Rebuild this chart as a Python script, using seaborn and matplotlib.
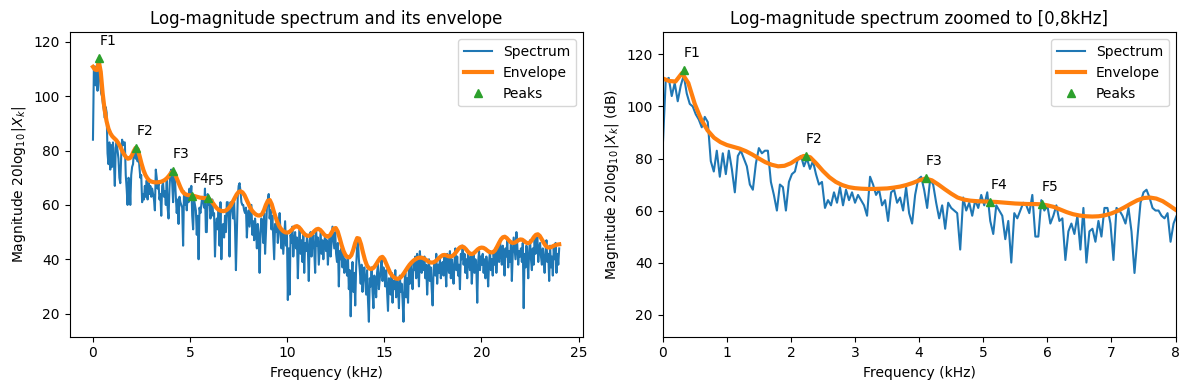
import numpy as np
import pandas as pd
import seaborn as sns
import matplotlib.pyplot as plt

# log-magnitude spectrum, 513 bins from 0 to 24 kHz
spectrum_db = [
    84, 110, 111, 104, 109, 102, 108, 112, 105, 101, 100, 97, 95, 92, 96, 94,
    79, 75, 83, 73, 82, 74, 83, 76, 67, 81, 83, 80, 77, 70, 68,
    78, 84, 82, 83, 83, 71, 66, 60, 70, 69, 60, 71, 74, 75, 80, 81, 77,
    80, 76, 79, 74, 70, 71, 61, 64, 62, 67, 63, 69, 62,
    68, 64, 67, 63, 66, 64, 62, 58, 73, 70, 66, 68, 62, 64, 56,
    67, 68, 63, 65, 60, 69, 59, 55, 66, 72, 73, 68, 61, 72,
    70, 63, 57, 62, 53, 63, 61, 60, 59, 45, 65, 60,
    63, 58, 64, 61, 66, 62, 67, 56, 51, 62, 60, 58, 49, 56, 40,
    59, 57, 60, 63, 62, 59, 66, 50, 50, 64, 60, 62, 55, 58, 62, 56, 57,
    41, 52, 55, 51, 58, 45, 61, 40, 52, 53, 48, 56, 50, 61, 61, 55,
    41, 61, 60, 58, 55, 61, 52, 36, 50, 63, 67, 68, 65, 61, 60, 60,
    58, 57, 59, 48, 55,
    # 8 - 24 kHz
    58, 52, 56, 60, 49, 54, 47, 55, 51, 44, 53, 48, 35, 50, 55, 52, 46, 57, 42, 50, 59,
    62, 64, 55, 58, 51, 56, 48, 40, 53, 50, 55, 46, 52, 57, 49, 44, 51, 42, 48, 54, 45, 50,
    25, 44, 27, 49, 46, 52, 41, 47, 50, 44, 48, 33, 45, 51, 42, 47, 39, 49, 35, 46, 43,
    48, 44, 32, 47, 50, 41, 46, 49, 43, 35, 51, 45, 48, 38, 44, 50, 42, 47, 40, 46, 49,
    43, 47, 38, 45, 49, 41, 46, 52, 48, 44, 50, 42, 39, 46, 30, 43, 40, 44, 37, 42, 35, 40,
    38, 34, 41, 29, 36, 19, 33, 39, 28, 35, 23, 37, 44, 47, 40, 36, 31, 38, 28, 34, 37,
    32, 27, 36, 25, 17, 33, 30, 37, 28, 22, 34, 31, 26, 35, 38, 29, 33, 36, 40, 32, 37,
    34, 30, 36, 28, 21, 33, 31, 27, 35, 24, 32, 29, 36, 26, 33, 30, 22, 34, 28, 31, 25, 17,
    30, 35, 26, 33, 24, 37, 31, 38, 34, 29, 39, 36, 41, 33, 42, 38, 30, 43, 37, 35, 40,
    36, 41, 33, 38, 27, 35, 40, 32, 37, 29, 23, 36, 39, 34, 42, 31, 38, 35, 40, 33, 37,
    39, 34, 41, 36, 30, 42, 38, 35, 43, 33, 40, 37, 31, 39, 44, 36, 41, 34, 38, 29, 42, 40,
    45, 38, 42, 35, 40, 33, 43, 39, 36, 41, 31, 38, 42, 35, 40, 37, 24, 39, 43, 36, 41,
    38, 42, 35, 40, 33, 41, 37, 30, 39, 43, 36, 40, 34, 42, 38, 44, 35, 41, 46, 39, 47,
    42, 38, 45, 40, 34, 44, 41, 47, 37, 43, 39, 46, 32, 42, 48, 44, 40, 50, 45, 38, 43, 41,
    44, 39, 46, 22, 42, 37, 45, 41, 33, 43, 47, 40, 36, 44, 38, 48, 42, 45, 49, 39, 44,
    46, 41, 38, 44, 40, 35, 43, 47, 39, 42, 32, 45, 37, 41, 34, 44, 40, 46, 35, 42, 38, 44,
]

# smoothed envelope, every 0.1 kHz from 0 to 24 kHz
envelope_db = [
    110.8, 109.8, 109.6, 112.8, 109.0, 101.0, 95.0, 90.8, 88.0, 86.3,
    85.2, 84.5, 83.8, 82.8, 81.5, 80.0, 78.6, 77.6, 77.0, 77.2,
    78.2, 79.8, 81.0, 80.5, 78.0, 75.2, 72.8, 71.0, 69.8, 69.0,
    68.6, 68.4, 68.3, 68.3, 68.4, 68.5, 68.8, 69.2, 69.8, 70.6,
    71.6, 72.3, 71.6, 70.0, 68.2, 66.5, 65.0, 64.2, 63.8, 63.6,
    63.5, 63.4, 63.3, 63.1, 62.9, 62.7, 62.6, 62.5, 62.5, 62.4,
    62.0, 61.4, 60.4, 59.4, 58.6, 58.1, 57.8, 57.7, 57.8, 58.2,
    58.9, 59.9, 61.2, 62.6, 63.9, 64.8, 65.0, 64.6, 63.6, 62.0,
    60.3, 58.9, 57.8, 57.0, 56.4, 56.1, 56.1, 56.6, 58.0, 60.0,
    61.5, 61.8, 60.3, 57.8, 55.5, 53.5, 52.0, 51.0, 50.3, 49.9,
    49.8, 50.0, 50.6, 51.4, 52.0, 52.2, 51.8, 51.0, 50.0, 49.2,
    48.7, 48.6, 48.9, 49.6, 50.4, 51.0, 51.2, 50.8, 50.0, 49.1,
    48.5, 48.3, 48.8, 50.0, 51.3, 51.5, 50.2, 47.8, 45.2, 43.0,
    41.5, 40.8, 40.7, 41.5, 43.5, 46.0, 47.8, 47.6, 45.5, 42.5,
    39.8, 37.8, 36.7, 36.4, 36.6, 37.3, 38.4, 39.6, 40.6, 40.9,
    40.0, 38.3, 36.5, 35.0, 34.0, 33.3, 32.9, 32.8, 33.1, 33.8,
    34.8, 35.9, 37.0, 38.0, 38.8, 39.5, 40.0, 40.4, 40.6, 40.6,
    40.4, 40.0, 39.5, 39.0, 38.8, 38.8, 39.1, 39.7, 40.4, 41.0,
    41.5, 41.6, 41.4, 41.1, 41.0, 41.2, 41.8, 42.7, 43.7, 44.4,
    44.7, 44.4, 43.7, 42.8, 42.1, 41.9, 42.2, 42.9, 43.6, 44.1,
    44.3, 44.2, 43.8, 43.2, 42.7, 42.5, 42.6, 43.3, 44.6, 46.0,
    47.3, 48.1, 48.3, 47.8, 47.0, 46.3, 46.0, 46.1, 46.5, 47.0,
    47.3, 47.2, 46.7, 46.1, 45.9, 46.2, 47.1, 48.2, 49.0, 49.2,
    48.6, 47.4, 46.1, 45.0, 44.4, 44.3, 44.5, 44.9, 45.2, 45.4,
    45.5,
]

peak_khz = [0.33, 2.23, 4.10, 5.11, 5.91]
peak_db = [113.9, 80.9, 72.4, 63.2, 62.4]
peak_names = ["F1", "F2", "F3", "F4", "F5"]

spec = pd.DataFrame({"freq": np.linspace(0, 24, len(spectrum_db)), "mag": spectrum_db})
env = pd.DataFrame({"freq": np.linspace(0, 24, len(envelope_db)), "mag": envelope_db})
peaks = pd.DataFrame({"freq": peak_khz, "mag": peak_db})

fig, axes = plt.subplots(1, 2, figsize=(12, 4), dpi=100)

for ax in axes:
    sns.lineplot(data=spec, x="freq", y="mag", ax=ax, color="tab:blue",
                 linewidth=1.5, label="Spectrum")
    sns.lineplot(data=env, x="freq", y="mag", ax=ax, color="tab:orange",
                 linewidth=3, label="Envelope")
    ax.plot(peaks["freq"], peaks["mag"], "^", color="tab:green", label="Peaks")
    for f, m, name in zip(peak_khz, peak_db, peak_names):
        ax.text(f, m + 5, name)
    ax.set_xlabel("Frequency (kHz)")
    ax.legend(loc="upper right")

axes[0].set_title("Log-magnitude spectrum and its envelope")
axes[0].set_ylabel(r"Magnitude $20\log_{10}|X_k|$")
axes[0].set_ylim(11.5, 123.5)

axes[1].set_title("Log-magnitude spectrum zoomed to [0,8kHz]")
axes[1].set_ylabel(r"Magnitude $20\log_{10}|X_k|$ (dB)")
axes[1].set_xlim(0, 8)
axes[1].set_ylim(11.5, 128.5)

plt.tight_layout()
plt.savefig("out.png", bbox_inches="tight")
